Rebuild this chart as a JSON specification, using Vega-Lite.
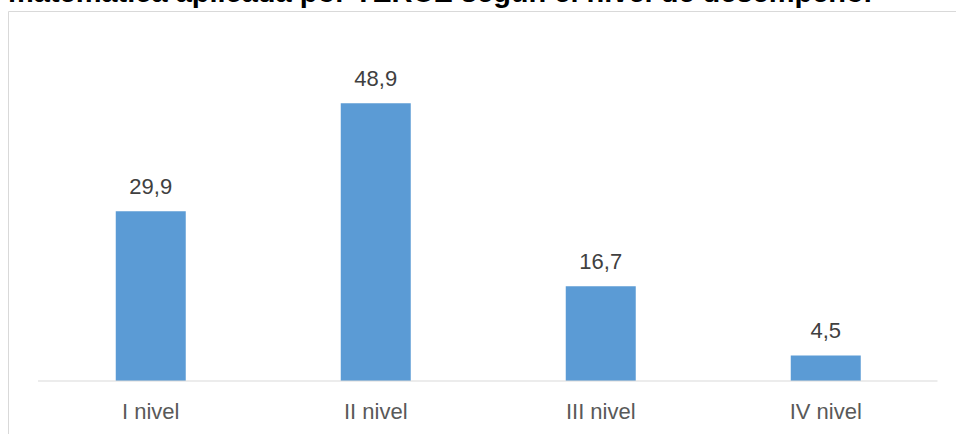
{
  "$schema": "https://vega.github.io/schema/vega-lite/v6.json",
  "width": 948,
  "height": 423,
  "autosize": {"type": "none"},
  "padding": {"left": 8, "top": 11, "right": 0, "bottom": 0},
  "background": "white",
  "config": {
    "view": {"stroke": null},
    "font": "Liberation Sans",
    "locale": {"number": {"decimal": ",", "thousands": ".", "grouping": [3], "currency": ["", " €"]}}
  },
  "title": {
    "text": "matemática aplicada por TERCE según el nivel de desempeño.",
    "anchor": "start",
    "frame": "group",
    "font": "Liberation Sans",
    "fontSize": 29,
    "fontWeight": "bold",
    "color": "#000000",
    "baseline": "alphabetic",
    "offset": 0,
    "dy": 20
  },
  "data": {
    "values": [
      {"nivel": "I nivel", "pct": 29.9},
      {"nivel": "II nivel", "pct": 48.9},
      {"nivel": "III nivel", "pct": 16.7},
      {"nivel": "IV nivel", "pct": 4.5}
    ]
  },
  "layer": [
    {
      "mark": {"type": "bar", "color": "#5b9bd5"},
      "encoding": {
        "x": {
          "field": "nivel",
          "type": "nominal",
          "sort": null,
          "scale": {
            "domain": ["I nivel", "II nivel", "III nivel", "IV nivel"],
            "paddingInner": 0.68889,
            "paddingOuter": 0.45111,
            "align": 0.5308,
            "round": false
          },
          "axis": {"orient": "top", "title": null, "labels": false, "ticks": false, "grid": false, "domainColor": "#d9d9d9", "domainWidth": 1, "zindex": 1}
        },
        "y": {
          "field": "pct",
          "type": "quantitative",
          "scale": {"domain": [-9.33, 65.14], "nice": false, "zero": false},
          "axis": {"title": null, "labels": false, "ticks": false, "grid": false, "domainColor": "#d9d9d9", "domainWidth": 1}
        }
      }
    },
    {
      "mark": {"type": "text", "baseline": "alphabetic", "dy": -17, "fontSize": 22, "color": "#404040", "font": "Liberation Sans"},
      "encoding": {
        "x": {"field": "nivel", "type": "nominal", "sort": null},
        "y": {"field": "pct", "type": "quantitative"},
        "text": {"field": "pct", "type": "quantitative", "format": ".1f"}
      }
    },
    {
      "mark": {"type": "text", "baseline": "alphabetic", "dy": 38, "fontSize": 22, "color": "#595959", "font": "Liberation Sans"},
      "encoding": {
        "x": {"field": "nivel", "type": "nominal", "sort": null},
        "y": {"datum": 0},
        "text": {"field": "nivel", "type": "nominal"}
      }
    },
    {
      "data": {"values": [{"desde": "I nivel", "hasta": "IV nivel"}]},
      "mark": {"type": "rule", "color": "#d9d9d9", "strokeWidth": 1},
      "encoding": {
        "x": {"field": "desde", "type": "nominal", "bandPosition": -1.1107},
        "x2": {"field": "hasta", "bandPosition": 2.0964},
        "y": {"datum": 0}
      }
    }
  ]
}
